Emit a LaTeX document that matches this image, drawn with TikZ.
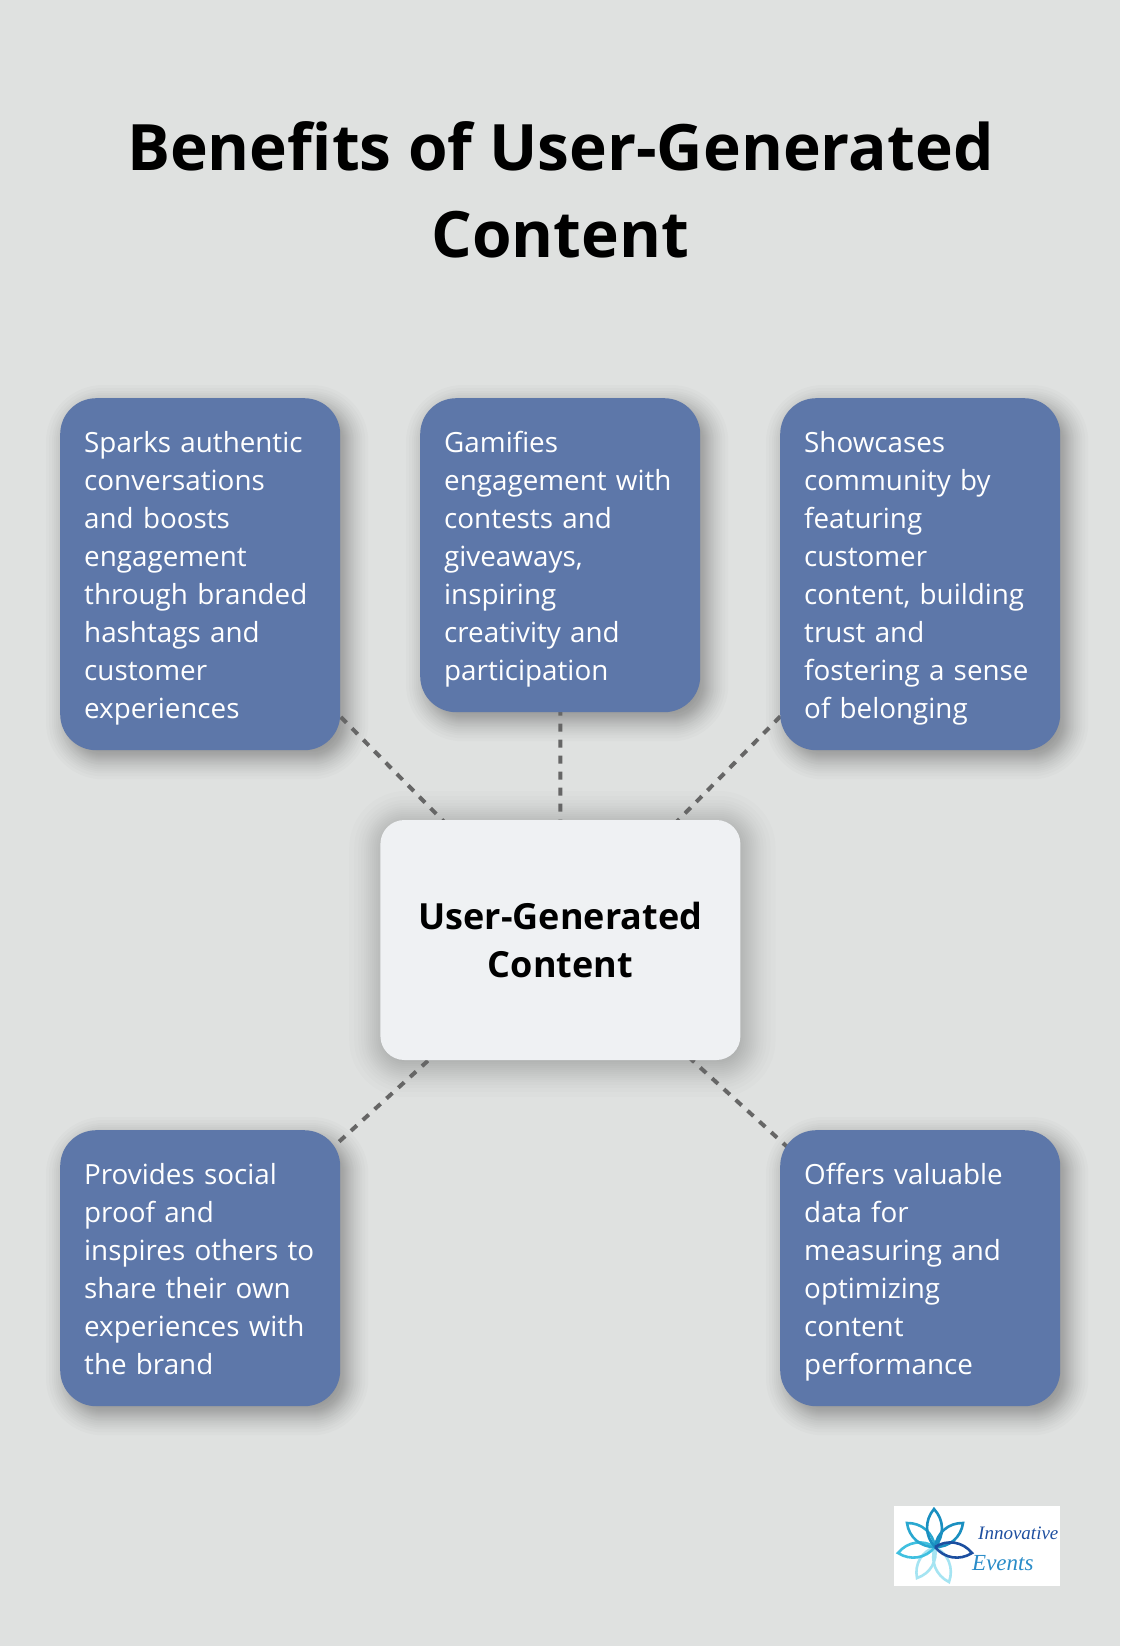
\documentclass[tikz,border=0pt]{standalone}
\usepackage{fontspec}
\setmainfont{Open Sans}
\newfontfamily\logofont{Liberation Serif}
\usetikzlibrary{calc,backgrounds}
\newcommand{\cardstrut}{\rule[-8pt]{0pt}{38pt}}
\newcommand{\hubstrut}{\rule[-1.1pt]{0pt}{48pt}}
\definecolor{pagebg}{HTML}{DFE1E0}
\definecolor{boxblue}{HTML}{5D77A9}
\definecolor{hubfill}{HTML}{EFF1F3}
\definecolor{dashgrey}{HTML}{666666}
\definecolor{pA}{HTML}{1A8FC0}
\definecolor{pB}{HTML}{2AA8D0}
\definecolor{pC}{HTML}{1C4FA0}
\definecolor{pD}{HTML}{40C0E0}
\definecolor{pE}{HTML}{A5E4F2}
\definecolor{logoink}{HTML}{1E4FA0}
\definecolor{logoinkb}{HTML}{2A8CC8}
\tikzset{
  x=1pt,y=-1pt,
  card/.style={fill=boxblue,rounded corners=36pt,text=white,minimum width=280pt,inner sep=0pt,
    text width=232pt,align=left,font=\fontsize{27.8}{38}\selectfont,anchor=north west,
    execute at begin node=\cardstrut,execute at end node=\cardstrut},
  hub/.style={fill=hubfill,rounded corners=24pt,text=black,minimum width=360pt,minimum height=240pt,
    inner sep=0pt,align=center,font=\fontsize{36}{48}\selectfont\bfseries,
    execute at begin node=\hubstrut,execute at end node=\hubstrut},
  link/.style={draw=dashgrey,line width=4pt,dash pattern=on 8pt off 8pt},
  softshade/.style={fill=black,opacity=0.016},
  hubshade/.style={fill=black,opacity=0.010},
  petal/.style={line width=2.6pt,fill=none},
  titletext/.style={font=\fontsize{64}{87}\selectfont\bfseries,align=center,text=black,inner sep=0pt},
}
\begin{document}
\begin{tikzpicture}
\useasboundingbox (0,0) rectangle (1120,1646);
\node[titletext] (title) at (560.3,189.5) {Benefits of User-Generated\\Content};
\node[card,minimum height=352pt] (b1) at (60,398) {Sparks authentic\\conversations\\and boosts\\engagement\\through branded\\hashtags and\\customer\\experiences};
\node[card,minimum height=314pt] (b2) at (420,398) {Gamifies\\engagement with\\contests and\\giveaways,\\inspiring\\creativity and\\participation};
\node[card,minimum height=352pt] (b3) at (780,398) {Showcases\\community by\\featuring\\customer\\content, building\\trust and\\fostering a sense\\of belonging};
\node[hub] (hub) at (560.4,940) {User-Generated\\Content};
\node[card,minimum height=276pt] (b4) at (60,1130) {Provides social\\proof and\\inspires others to\\share their own\\experiences with\\the brand};
\node[card,minimum height=276pt] (b5) at (780,1130) {Offers valuable\\data for\\measuring and\\optimizing\\content\\performance};
\begin{scope}[on background layer]
  \fill[pagebg] (0,0) rectangle (1120,1646);
  \foreach \n in {b1,b2,b3,b4,b5}{
    \foreach \s in {-16,-13,-11,-9,-7,-6,-4,-3,-2,-1,0,1,2,3,4,6,7,9,11,13,15,18,21}{
      \pgfmathsetmacro{\rr}{max(36+\s,4)}
      \fill[softshade,rounded corners=\rr pt] ($(\n.south west)+(7-\s,8+\s)$) rectangle ($(\n.north east)+(7+\s,8-\s)$);
    }
  }
  \foreach \s in {-20,-16,-13,-10,-8,-6,-4,-2,0,2,4,6,8,10,12,14,16,18,21,24,28,33}{
    \pgfmathsetmacro{\rr}{max(24+\s,4)}
    \fill[hubshade,rounded corners=\rr pt] ($(hub.south west)+(2-\s,4+\s)$) rectangle ($(hub.north east)+(2+\s,4-\s)$);
  }
  \draw[link,dash phase=7.6pt] (b1.center) -- (hub.center);
  \draw[link,dash phase=7.5pt] (b2.center) -- (hub.center);
  \draw[link,dash phase=8.6pt] (b3.center) -- (hub.center);
  \draw[link,dash phase=4pt] (b4.center) -- (hub.center);
  \draw[link,dash phase=14.3pt] (b5.center) -- (hub.center);
\end{scope}
% logo
\fill[white] (894,1506) rectangle (1060,1586);
\coordinate (lc) at (935,1547);
\foreach \tx/\ty/\col in {949/1582/pE,917/1578/pE,898/1553/pD,907/1523/pB,934/1509/pA,963/1523/pA,972/1553/pC}{
  \coordinate (tip) at (\tx,\ty);
  \draw[petal,draw=\col] (lc) to[bend left=42] (tip) to[bend left=42] (lc);
}
\node[font=\logofont\itshape\fontsize{19}{20}\selectfont,text=logoink,inner sep=0pt,anchor=base west] (logoA) at (978,1539) {Innovative};
\node[font=\logofont\itshape\fontsize{23}{23}\selectfont,text=logoinkb,inner sep=0pt,anchor=base west] (logoB) at (972,1570) {Events};
\end{tikzpicture}
\end{document}
